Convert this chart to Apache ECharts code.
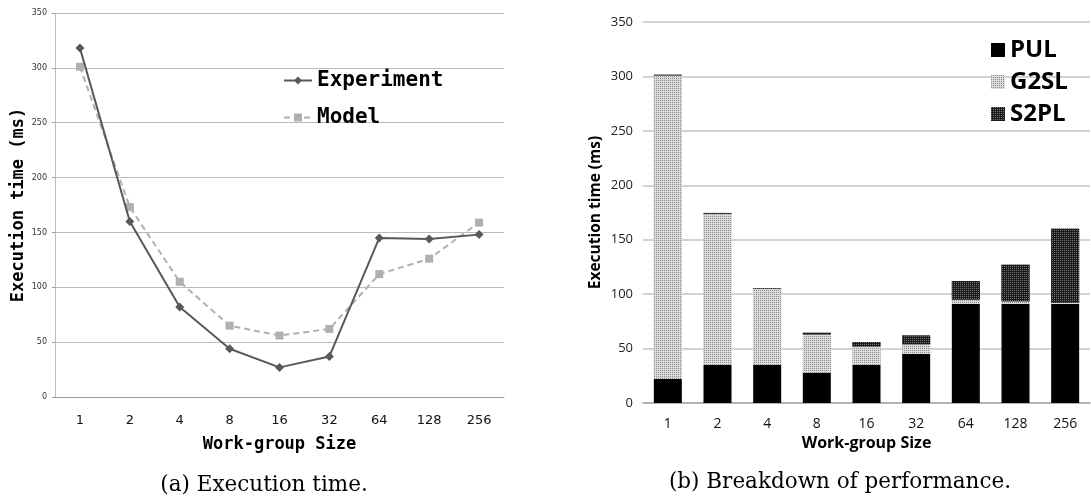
<!DOCTYPE html>
<html>
<head>
<meta charset="utf-8">
<script src="https://cdn.jsdelivr.net/npm/echarts@6/dist/echarts.min.js"></script>
<style>
  html, body { margin: 0; padding: 0; background: #fff; }
  #main { width: 1091px; height: 500px; }
</style>
</head>
<body>
<div id="main"></div>
<script>
// work-group sizes (shared by both panels)
var sizes = ['1', '2', '4', '8', '16', '32', '64', '128', '256'];

// (a) execution time
var experiment = [318, 160, 82, 44, 27, 37, 145, 144, 148];
var model = [301, 173, 105, 65, 56, 62, 112, 126, 159];

// (b) breakdown
var pul = [22, 35, 35, 28, 35, 45, 91, 91, 91];
var g2sl = [279, 139, 70, 35, 17, 9, 4, 2.5, 1];
var s2pl = [0.6, 0.6, 0.6, 1.5, 4, 8, 17, 33.5, 68];

var mono = 'DejaVu Sans Mono';
var sans = 'Open Sans';

var myChart = echarts.init(document.getElementById('main'));

var option = {
    animation: false,
    backgroundColor: '#fff',
    legend: [
        {
            data: ['Experiment', 'Model'],
            orient: 'vertical',
            left: 278,
            top: 65,
            itemGap: 16,
            itemWidth: 28,
            itemHeight: 10,
            textStyle: { fontFamily: mono, fontWeight: 'bold', fontSize: 21, color: '#000' }
        },
        {
            data: ['PUL', 'G2SL', 'S2PL'],
            orient: 'vertical',
            left: 986,
            top: 33,
            itemGap: 8,
            itemWidth: 14,
            itemHeight: 14,
            icon: 'rect',
            textStyle: { fontFamily: sans, fontWeight: 'bold', fontSize: 24, color: '#000' }
        }
    ],
    grid: [
        { left: 55, top: 13, width: 449, height: 384 },
        { left: 643, top: 22, width: 447, height: 381 }
    ],
    xAxis: [
        {
            gridIndex: 0,
            type: 'category',
            data: sizes,
            axisLine: { lineStyle: { color: '#999' } },
            axisTick: { length: 5, lineStyle: { color: '#999' } },
            axisLabel: { fontFamily: 'DejaVu Sans', fontSize: 13, color: '#111', margin: 17 },
            name: 'Work-group Size',
            nameLocation: 'middle',
            nameGap: 39,
            nameTextStyle: { fontFamily: mono, fontWeight: 'bold', fontSize: 17, color: '#000' }
        },
        {
            gridIndex: 1,
            type: 'category',
            data: sizes,
            axisLine: { lineStyle: { color: '#aaa', width: 1.5 } },
            axisTick: { show: false },
            axisLabel: { fontFamily: sans, fontSize: 14, color: '#111', margin: 14 },
            name: 'Work-group Size',
            nameLocation: 'middle',
            nameGap: 26,
            nameTextStyle: { fontFamily: sans, fontWeight: 'bold', fontSize: 16, color: '#000' }
        }
    ],
    yAxis: [
        {
            gridIndex: 0,
            type: 'value',
            min: 0,
            max: 350,
            interval: 50,
            axisLine: { show: true, lineStyle: { color: '#bbb' } },
            axisTick: { show: true, length: 3, lineStyle: { color: '#999' } },
            axisLabel: { fontFamily: 'DejaVu Sans', fontSize: 8, color: '#333', margin: 8 },
            splitLine: { lineStyle: { color: '#bbb' } },
            name: 'Execution time (ms)',
            nameLocation: 'middle',
            nameGap: 28,
            nameTextStyle: { fontFamily: mono, fontWeight: 'bold', fontSize: 17, color: '#000' }
        },
        {
            gridIndex: 1,
            type: 'value',
            min: 0,
            max: 350,
            interval: 50,
            axisLine: { show: false },
            axisTick: { show: false },
            axisLabel: { fontFamily: sans, fontSize: 13, color: '#222', margin: 10 },
            splitLine: { lineStyle: { color: '#c4c4c4', width: 1.5 } },
            name: 'Execution time (ms)',
            nameLocation: 'middle',
            nameGap: 39,
            nameTextStyle: { fontFamily: sans, fontWeight: 'bold', fontSize: 15.5, color: '#000' }
        }
    ],
    series: [
        {
            name: 'Experiment',
            type: 'line',
            xAxisIndex: 0,
            yAxisIndex: 0,
            data: experiment,
            symbol: 'diamond',
            symbolSize: 9,
            z: 3,
            lineStyle: { color: '#595959', width: 2 },
            itemStyle: { color: '#595959' }
        },
        {
            name: 'Model',
            type: 'line',
            xAxisIndex: 0,
            yAxisIndex: 0,
            data: model,
            symbol: 'rect',
            symbolSize: 8,
            z: 2,
            lineStyle: { color: '#b0b0b0', width: 2, type: [6, 4] },
            itemStyle: { color: '#b0b0b0' }
        },
        {
            name: 'PUL',
            type: 'bar',
            stack: 'b',
            xAxisIndex: 1,
            yAxisIndex: 1,
            data: pul,
            barWidth: 28,
            itemStyle: { color: '#000' }
        },
        {
            name: 'G2SL',
            type: 'bar',
            stack: 'b',
            xAxisIndex: 1,
            yAxisIndex: 1,
            data: g2sl,
            barWidth: 28,
            itemStyle: {
                color: '#c6c6c6',
                decal: {
                    symbol: 'rect',
                    symbolSize: 1,
                    dashArrayX: [1, 1],
                    dashArrayY: [1, 1],
                    color: '#8a8a8a',
                    backgroundColor: '#dcdcdc'
                }
            }
        },
        {
            name: 'S2PL',
            type: 'bar',
            stack: 'b',
            xAxisIndex: 1,
            yAxisIndex: 1,
            data: s2pl,
            barWidth: 28,
            itemStyle: {
                color: '#333',
                decal: {
                    symbol: 'rect',
                    symbolSize: 1,
                    dashArrayX: [1, 1],
                    dashArrayY: [1, 1],
                    color: '#777',
                    backgroundColor: '#1a1a1a'
                }
            }
        }
    ],
    graphic: [
        {
            type: 'text',
            x: 264,
            y: 485,
            style: {
                text: '(a) Execution time.',
                fontFamily: 'DejaVu Serif', fontSize: 21.5, fill: '#000',
                align: 'center', verticalAlign: 'middle'
            }
        },
        {
            type: 'text',
            x: 840,
            y: 482,
            style: {
                text: '(b) Breakdown of performance.',
                fontFamily: 'DejaVu Serif', fontSize: 21.5, fill: '#000',
                align: 'center', verticalAlign: 'middle'
            }
        }
    ]
};

myChart.setOption(option);
</script>
</body>
</html>
